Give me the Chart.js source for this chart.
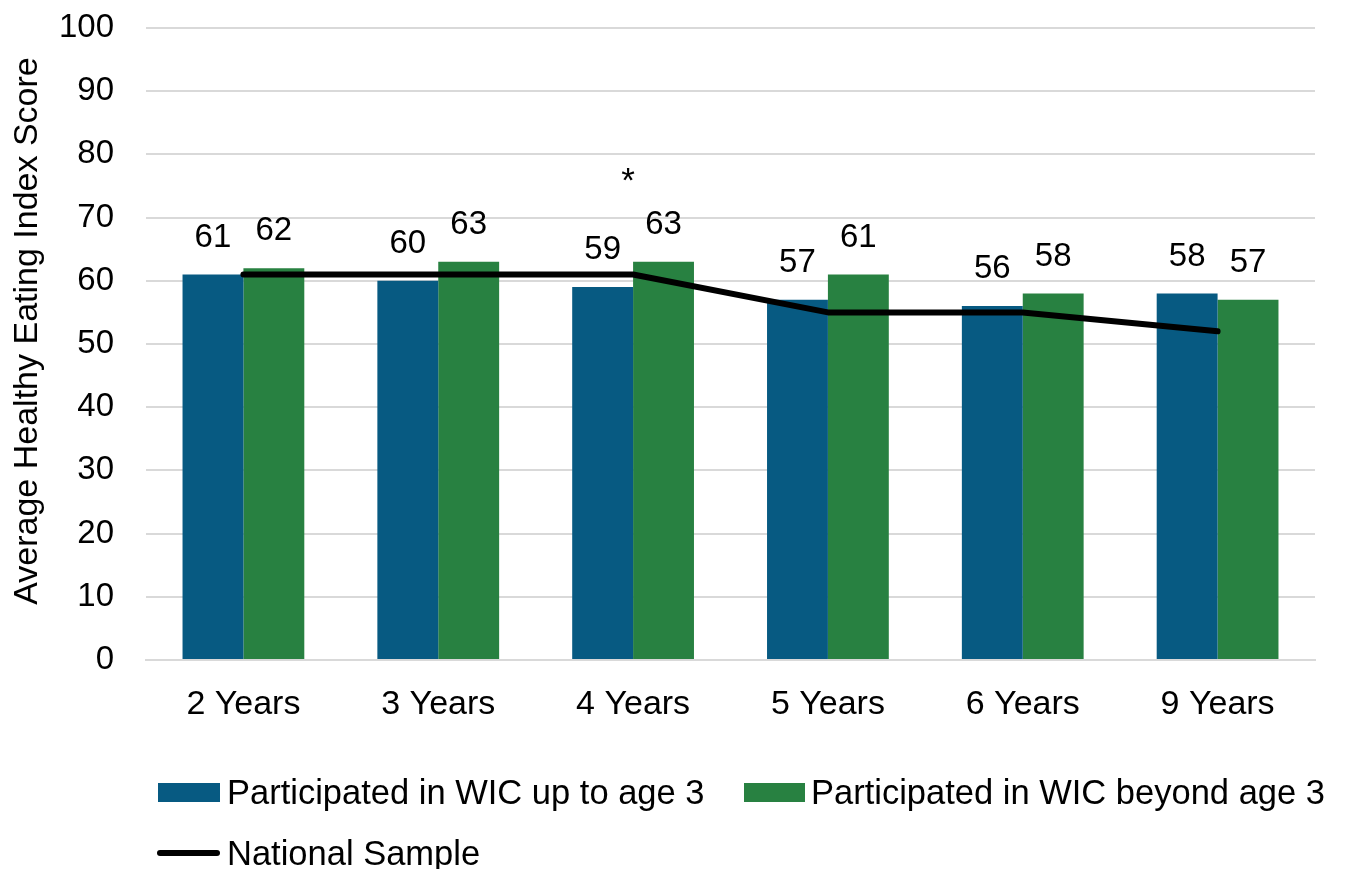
<!DOCTYPE html>
<html><head><meta charset="utf-8">
<script src="https://cdn.jsdelivr.net/npm/chart.js@4.4.1/dist/chart.umd.min.js"></script>
<style>
html,body{margin:0;padding:0;background:#fff;}
#wrap{position:relative;width:1345px;height:869px;font-family:"Liberation Sans",Arial,sans-serif;}
canvas{position:absolute;left:0;top:0;}
.lg{position:absolute;font-size:34.5px;color:#000;line-height:1;white-space:nowrap;}
.sw{position:absolute;}
</style></head>
<body><div id="wrap"><canvas id="c" width="1345" height="869"></canvas>
<div class="sw" style="left:158px;top:783px;width:62px;height:19px;background:#075A82"></div>
<div class="lg" style="left:227px;top:775px;">Participated in WIC up to age 3</div>
<div class="sw" style="left:744px;top:783px;width:61px;height:19px;background:#288141"></div>
<div class="lg" style="left:811px;top:775px;">Participated in WIC beyond age 3</div>
<div class="sw" style="left:157px;top:850px;width:63px;height:6px;background:#000;border-radius:3px"></div>
<div class="lg" style="left:227px;top:836px;">National Sample</div>
</div>
<script>
const categories = ["2 Years","3 Years","4 Years","5 Years","6 Years","9 Years"];
const wicUpTo3 = [61,60,59,57,56,58];
const wicBeyond3 = [62,63,63,61,58,57];
const nationalSample = [61,61,61,55,55,52];
const yTicks = [0,10,20,30,40,50,60,70,80,90,100];
const yTitle = "Average Healthy Eating Index Score";
const significance = [{category:"4 Years", value:75.5, text:"*"}];

const FONT = "'Liberation Sans', Arial, sans-serif";

const labelPlugin = {
  id:'labels',
  afterDatasetsDraw(chart){
    const ctx = chart.ctx;
    ctx.save();
    ctx.font = "33px " + FONT;
    ctx.fillStyle = "#000";
    ctx.textAlign = "center";
    ctx.textBaseline = "middle";
    [1,2].forEach(di=>{
      const meta = chart.getDatasetMeta(di);
      meta.data.forEach((bar,i)=>{
        ctx.fillText(String(chart.data.datasets[di].data[i]), bar.x, bar.y - 37);
      });
    });
    const xs = chart.scales.x, ys = chart.scales.y;
    significance.forEach(s=>{
      ctx.font = "35px " + FONT;
      ctx.fillText(s.text, xs.getPixelForValue(categories.indexOf(s.category)) - 5, ys.getPixelForValue(s.value));
    });
    ctx.save();
    ctx.translate(28, 331);
    ctx.rotate(-Math.PI/2);
    ctx.font = "34px " + FONT;
    ctx.fillText(yTitle, 0, 0);
    ctx.restore();
    ctx.restore();
  }
};

new Chart(document.getElementById('c'), {
  data:{
    labels: categories,
    datasets:[
      {type:'line', label:'National Sample', data: nationalSample, borderColor:'#000', borderWidth:6, pointRadius:0, borderCapStyle:'round', borderJoinStyle:'round', order:0, tension:0},
      {type:'bar', label:'Participated in WIC up to age 3', data: wicUpTo3, backgroundColor:'#075A82', categoryPercentage:0.625, barPercentage:1, order:1},
      {type:'bar', label:'Participated in WIC beyond age 3', data: wicBeyond3, backgroundColor:'#288141', categoryPercentage:0.625, barPercentage:1, order:1}
    ]
  },
  options:{
    responsive:false, animation:false,
    layout:{padding:{top:28,right:30,bottom:149,left:0}},
    plugins:{legend:{display:false}, tooltip:{enabled:false}},
    scales:{
      x:{
        afterFit(s){ s.height = 60; },
        grid:{display:false, drawTicks:false},
        border:{display:true, color:'#d9d9d9', width:2},
        ticks:{font:{family:FONT,size:34}, color:'#000', padding:24}
      },
      y:{
        min:0, max:100,
        afterBuildTicks(s){ s.ticks = yTicks.map(v=>({value:v})); },
        afterFit(s){ s.width = 146; s.paddingTop = 0; s.paddingBottom = 0; },
        grid:{color:'#d9d9d9', lineWidth:2, drawTicks:false},
        border:{display:false},
        ticks:{font:{family:FONT,size:33}, color:'#000', padding:32}
      }
    }
  },
  plugins:[labelPlugin]
});
</script></body></html>
